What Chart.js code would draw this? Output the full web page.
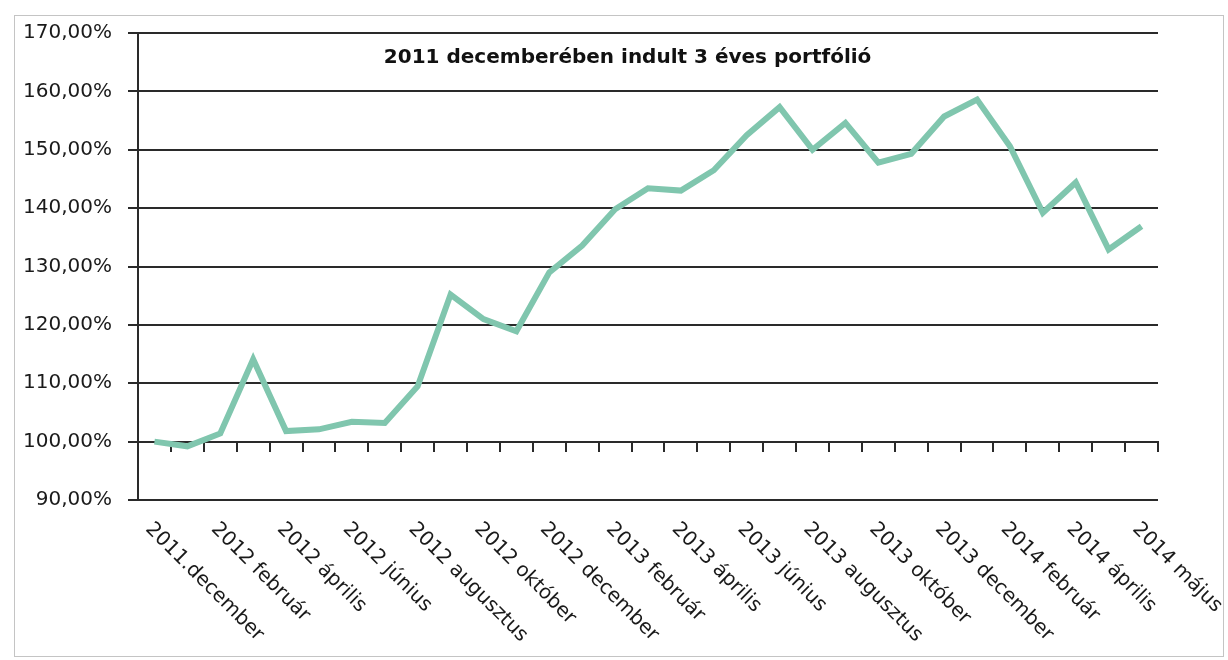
<!DOCTYPE html>
<html>
<head>
<meta charset="utf-8">
<script src="https://cdn.jsdelivr.net/npm/chart.js@4"></script>
<style>
  body { margin: 0; background: #fff; }
  #wrap { position: relative; width: 1228px; height: 660px; }
  #frame { position: absolute; left: 14px; top: 15px; width: 1208px; height: 640px; border: 1px solid #c4c4c4; }
  canvas { position: absolute; left: 0; top: 0; }
</style>
</head>
<body>
<div id="wrap">
  <div id="frame"></div>
  <canvas id="portfolio" width="1228" height="660"></canvas>
</div>
<script>
const chartTitle = '2011 decemberében indult 3 éves portfólió';

// one category per month, only every second one carries a label
const categories = [
  '2011.december', '', '2012 február', '', '2012 április', '', '2012 június', '',
  '2012 augusztus', '', '2012 október', '', '2012 december', '', '2013 február', '',
  '2013 április', '', '2013 június', '', '2013 augusztus', '', '2013 október', '',
  '2013 december', '', '2014 február', '', '2014 április', '', '2014 május'
];

// portfolio value in percent of the starting value
const portfolioValues = [
  100.0, 99.2, 101.4, 114.1, 101.8, 102.1, 103.4, 103.2,
  109.5, 125.2, 121.0, 118.9, 129.0, 133.6, 139.8, 143.4,
  143.0, 146.5, 152.5, 157.3, 150.0, 154.6, 147.8, 149.3,
  155.7, 158.6, 150.6, 139.2, 144.4, 132.9, 136.9
];

const yTicks = [90, 100, 110, 120, 130, 140, 150, 160, 170];

const gridColor = '#2a2a2a';
const font = 'DejaVu Sans';

const pct = v => v.toFixed(2).replace('.', ',') + '%';

// title sits inside the plot, x labels run downwards to the right
const overlayText = {
  id: 'overlayText',
  afterDraw(chart) {
    const {ctx, chartArea} = chart;
    const x = chart.scales.x;
    ctx.save();
    ctx.fillStyle = '#111';
    ctx.font = 'bold 20px "' + font + '"';
    ctx.textAlign = 'center';
    ctx.textBaseline = 'middle';
    ctx.fillText(chartTitle, chartArea.left + chartArea.width * 0.48, chartArea.top + 25);

    ctx.font = '20px "' + font + '"';
    ctx.fillStyle = '#1a1a1a';
    ctx.textAlign = 'left';
    categories.forEach((label, i) => {
      if (!label) return;
      const px = x.getPixelForValue(i);
      ctx.save();
      ctx.translate(px - 6, chartArea.bottom + 26);
      ctx.rotate(Math.PI / 4);
      ctx.fillText(label, 0, 0);
      ctx.restore();
    });
    ctx.restore();
  }
};

new Chart(document.getElementById('portfolio'), {
  type: 'line',
  data: {
    labels: categories,
    datasets: [{
      label: chartTitle,
      data: portfolioValues,
      borderColor: 'rgb(128, 198, 174)',
      borderWidth: 6,
      pointRadius: 0,
      tension: 0,
      fill: false
    }]
  },
  options: {
    responsive: false,
    animation: false,
    layout: { padding: { left: 0, top: 33, right: 70, bottom: 160 } },
    plugins: {
      legend: { display: false },
      title: { display: false },
      tooltip: { enabled: false }
    },
    scales: {
      x: {
        type: 'category',
        position: { y: 100 },
        offset: true,
        grid: {
          offset: true,
          drawOnChartArea: false,
          drawTicks: true,
          tickLength: 9,
          color: gridColor,
          lineWidth: 2
        },
        border: { display: true, color: gridColor, width: 2 },
        ticks: { display: false },
        afterFit: s => { s.height = 0; }
      },
      y: {
        min: 90,
        max: 170,
        afterBuildTicks: s => { s.ticks = yTicks.map(v => ({ value: v })); },
        grid: { color: gridColor, lineWidth: 2, tickLength: 10 },
        border: { display: true, color: gridColor, width: 2 },
        ticks: {
          padding: 16,
          color: '#1a1a1a',
          font: { family: font, size: 20 },
          callback: v => pct(v)
        },
        afterFit: s => { s.width = 138; }
      }
    }
  },
  plugins: [overlayText]
});
</script>
</body>
</html>
